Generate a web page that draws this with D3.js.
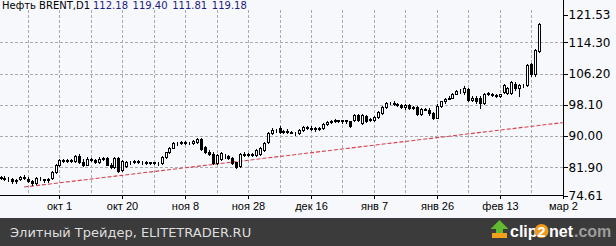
<!DOCTYPE html>
<html lang="ru">
<meta charset="utf-8">
<head>
<title>Нефть BRENT, D1</title>
<script src="https://d3js.org/d3.v7.min.js"></script>
<style>
  body { margin: 0; background: #fff; }
  svg { display: block; }
  .grid line { stroke: #a9abb0; stroke-dasharray: 3,2; shape-rendering: crispEdges; }
  .axis text { font-family: "DejaVu Sans", sans-serif; fill: #000; }
  .axis line { stroke: #000; shape-rendering: crispEdges; }
  .xaxis text { font-family: "Liberation Sans", sans-serif; font-size: 11px; }
  .yaxis text { font-size: 12px; }
</style>
</head>
<body>
<div id="chart"></div>
<script>
// daily bars, Brent, mid Sep .. Feb 23
var opens = [
  79.3, 79.2, 79.0, 78.9, 78.3, 78.8, 79.5, 79.0, 78.4, 77.9,
  79.0, 78.8, 78.6, 79.2, 80.8, 82.5, 83.8, 83.6, 83.7, 83.6,
  84.9, 83.3, 82.6, 84.2, 83.8, 83.3, 84.2, 84.3, 82.6, 82.0,
  84.3, 81.1, 82.3, 83.3, 83.4, 83.5, 83.2, 83.4, 83.1, 83.2,
  83.0, 83.1, 84.6, 85.8, 87.0, 88.2, 88.1, 88.5, 88.3, 88.2,
  88.4, 89.2, 87.2, 85.8, 85.4, 83.0, 84.0, 84.8, 84.8, 84.3,
  83.2, 82.3, 85.4, 85.2, 85.3, 85.2, 85.4, 86.3, 88.4, 90.8,
  91.6, 92.2, 91.1, 91.3, 91.2, 90.9, 90.9, 91.5, 92.3, 92.2,
  91.9, 92.0, 92.1, 93.2, 93.6, 94.0, 94.1, 93.9, 94.1, 93.9,
  94.2, 95.5, 93.3, 95.2, 94.2, 94.3, 95.0, 96.0, 97.6, 98.5,
  98.6, 98.4, 98.1, 97.6, 98.0, 97.3, 97.6, 95.8, 97.1, 96.9,
  96.0, 94.8, 97.9, 99.0, 99.7, 100.0, 101.0, 101.6, 101.5, 102.2,
  99.4, 100.0, 100.0, 98.6, 101.0, 101.0, 100.7, 100.4, 101.4, 101.3,
  101.2, 103.6, 102.4, 103.2, 103.3, 108.6, 106.0, 112.18
];
var highs = [
  79.7, 79.6, 79.4, 79.2, 78.9, 79.7, 79.8, 79.3, 78.6, 79.4,
  79.3, 79.0, 79.2, 81.0, 82.7, 84.0, 84.1, 84.0, 84.1, 85.0,
  85.4, 84.0, 84.5, 84.4, 84.0, 84.5, 84.6, 84.5, 83.0, 84.5,
  84.6, 83.9, 83.5, 83.6, 83.8, 83.7, 83.6, 83.6, 83.3, 83.4,
  83.3, 84.8, 86.0, 87.3, 88.4, 88.5, 88.7, 88.8, 88.6, 89.0,
  89.4, 89.4, 87.5, 86.4, 85.8, 85.3, 85.9, 85.3, 85.0, 84.5,
  83.4, 85.6, 85.8, 85.6, 85.6, 86.6, 87.2, 88.5, 91.1, 92.0,
  91.9, 92.5, 91.6, 91.8, 91.4, 91.2, 91.8, 92.6, 92.7, 92.6,
  92.3, 92.3, 93.3, 93.8, 94.3, 94.4, 94.3, 94.3, 94.3, 94.0,
  95.8, 95.8, 95.8, 95.4, 94.8, 95.3, 96.5, 97.8, 98.8, 98.9,
  99.0, 98.7, 98.4, 98.4, 98.3, 97.8, 97.9, 97.3, 97.4, 97.2,
  96.2, 98.2, 99.2, 99.9, 100.3, 101.3, 101.9, 102.2, 102.9, 102.4,
  100.3, 100.3, 100.3, 101.2, 101.4, 101.2, 100.9, 101.0, 103.4, 102.8,
  104.3, 104.0, 103.6, 103.6, 108.7, 109.0, 112.5, 119.40
];
var lows = [
  78.9, 78.7, 78.3, 77.9, 77.9, 78.6, 78.8, 78.0, 77.3, 77.7,
  78.5, 78.0, 78.2, 78.8, 80.5, 82.3, 83.3, 83.2, 83.3, 83.4,
  83.0, 82.2, 82.4, 83.5, 83.0, 83.1, 83.9, 82.4, 81.8, 81.7,
  80.8, 80.9, 82.0, 82.9, 83.0, 83.0, 82.9, 82.7, 82.9, 82.8,
  82.6, 82.9, 84.4, 85.6, 86.8, 87.8, 87.9, 88.0, 87.9, 88.0,
  88.2, 86.3, 85.6, 85.2, 82.8, 82.7, 83.8, 84.4, 84.1, 82.8,
  81.8, 82.0, 84.9, 84.8, 84.9, 84.8, 85.1, 86.1, 88.2, 90.5,
  91.2, 90.9, 90.8, 90.9, 90.7, 90.4, 90.6, 91.3, 91.9, 91.6,
  91.4, 91.5, 91.9, 92.9, 93.4, 93.6, 93.6, 93.5, 93.4, 92.3,
  94.0, 94.0, 93.2, 93.6, 94.0, 94.0, 94.8, 95.8, 97.4, 98.2,
  98.1, 97.8, 97.3, 97.0, 97.0, 97.0, 95.4, 95.6, 96.7, 95.6,
  94.5, 94.6, 97.6, 98.6, 99.5, 99.8, 100.8, 101.2, 101.0, 99.0,
  99.2, 98.7, 97.3, 98.4, 100.6, 100.4, 100.2, 100.2, 101.2, 101.0,
  101.0, 102.0, 100.3, 102.8, 103.0, 105.6, 105.6, 111.81
];
var closes = [
  79.2, 79.0, 78.9, 78.3, 78.6, 79.5, 79.1, 78.4, 77.8, 79.1,
  78.8, 78.6, 79.0, 80.8, 82.5, 83.8, 83.6, 83.7, 83.5, 84.8,
  83.2, 82.5, 84.2, 83.8, 83.3, 84.2, 84.3, 82.6, 82.0, 84.3,
  81.0, 83.6, 83.3, 83.3, 83.5, 83.2, 83.4, 83.1, 83.2, 83.0,
  83.1, 84.6, 85.8, 87.0, 88.2, 88.1, 88.5, 88.3, 88.2, 88.8,
  89.2, 86.6, 85.8, 85.4, 83.0, 85.0, 85.6, 84.8, 84.3, 83.0,
  82.1, 85.4, 85.2, 85.4, 85.2, 86.4, 86.9, 88.2, 90.8, 91.7,
  91.5, 91.1, 91.3, 91.2, 90.9, 90.8, 91.5, 92.3, 92.2, 91.9,
  92.0, 91.9, 93.1, 93.6, 94.0, 94.1, 93.9, 94.1, 93.8, 92.6,
  95.5, 94.3, 95.4, 94.0, 94.5, 95.0, 96.3, 97.6, 98.5, 98.6,
  98.4, 98.1, 97.6, 98.0, 97.2, 97.5, 95.7, 97.1, 96.9, 95.9,
  94.8, 97.9, 99.0, 99.7, 100.0, 101.0, 101.6, 101.8, 102.6, 99.3,
  99.9, 99.0, 98.5, 101.0, 101.1, 100.7, 100.5, 100.8, 103.2, 102.5,
  104.0, 102.4, 103.3, 103.3, 108.4, 106.2, 112.3, 119.18
];

// bar index of each date label (every 16 bars)
var xTickBars = [15, 31, 47, 63, 79, 95, 111, 127, 143];
var xTickLabels = ["окт 1", "окт 20", "ноя 8", "ноя 28", "дек 16", "янв 7", "янв 26", "фев 13", "мар 2"];
var xGridBars = [7, 15, 23, 31, 39, 47, 55, 63, 71, 79, 87, 95, 103, 111, 119, 127, 135];

var yTicks = [74.61, 81.90, 90.00, 98.10, 106.20, 114.30, 121.53];
var yGrid = [81.90, 90.00, 98.10, 106.20, 114.30];

// trend line: two anchor points (bar index, price)
var trendBars = [6, 143];
var trendPrices = [76.8, 93.5];

var symbolName = "Нефть BRENT,D1";
var footerText = "Элитный Трейдер, ELITETRADER.RU";

var w = 616, h = 246;
var plotRight = 563.5, plotBottom = 195.5;

var svg = d3.select("#chart").append("svg")
    .attr("width", w)
    .attr("height", h);

svg.append("rect")
    .attr("width", w).attr("height", 218)
    .attr("fill", "#f7f8fb");

var xScale = d3.scaleLinear().domain([0, 143]).range([0.5, 562.5]);
var yScale = d3.scaleLinear().domain([74.61, 121.53]).range([plotBottom, 14.5]);

// grid
var grid = svg.append("g").attr("class", "grid");
grid.selectAll(".gx")
    .data(xGridBars)
    .enter()
    .append("line")
    .attr("x1", function(d) { return Math.round(xScale(d)) + 0.5; })
    .attr("x2", function(d) { return Math.round(xScale(d)) + 0.5; })
    .attr("y1", 10)
    .attr("y2", plotBottom);
grid.selectAll(".gy")
    .data(yGrid)
    .enter()
    .append("line")
    .attr("x1", 0)
    .attr("x2", plotRight)
    .attr("y1", function(d) { return Math.round(yScale(d)) + 0.5; })
    .attr("y2", function(d) { return Math.round(yScale(d)) + 0.5; });

// trend line
svg.append("clipPath").attr("id", "plotclip")
    .append("rect").attr("x", 0).attr("y", 0).attr("width", plotRight).attr("height", plotBottom);

svg.append("line")
    .attr("clip-path", "url(#plotclip)")
    .attr("x1", xScale(trendBars[0]))
    .attr("y1", yScale(trendPrices[0]))
    .attr("x2", xScale(trendBars[1]))
    .attr("y2", yScale(trendPrices[1]))
    .attr("stroke", "#d9404c")
    .attr("stroke-width", 1.1)
    .attr("stroke-dasharray", "4,2");

// candles
var bars = d3.range(closes.length);
var candles = svg.append("g").attr("clip-path", "url(#plotclip)");

candles.selectAll(".wick")
    .data(bars)
    .enter()
    .append("line")
    .attr("x1", function(i) { return Math.round(xScale(i)) + 0.5; })
    .attr("x2", function(i) { return Math.round(xScale(i)) + 0.5; })
    .attr("y1", function(i) { return Math.round(yScale(highs[i])); })
    .attr("y2", function(i) { return Math.round(yScale(lows[i])) + 1; })
    .attr("stroke", "#000")
    .attr("shape-rendering", "crispEdges");

candles.selectAll(".body")
    .data(bars)
    .enter()
    .append("rect")
    .attr("x", function(i) { return Math.round(xScale(i)) - 0.5; })
    .attr("y", function(i) { return Math.round(yScale(Math.max(opens[i], closes[i]))) + 0.5; })
    .attr("width", 2)
    .attr("height", function(i) {
        return Math.max(0, Math.round(yScale(Math.min(opens[i], closes[i]))) - Math.round(yScale(Math.max(opens[i], closes[i]))));
    })
    .attr("fill", function(i) { return closes[i] >= opens[i] ? "#fff" : "#000"; })
    .attr("stroke", "#000")
    .attr("shape-rendering", "crispEdges");

// axes
var yAxis = d3.axisRight(yScale)
    .tickValues(yTicks)
    .tickSize(4)
    .tickSizeOuter(0)
    .tickPadding(1)
    .tickFormat(d3.format(".2f"));
var gy = svg.append("g")
    .attr("class", "axis yaxis")
    .attr("transform", "translate(" + plotRight + ",0)")
    .call(yAxis);
gy.select(".domain").remove();

var xAxis = d3.axisBottom(xScale)
    .tickValues(xTickBars)
    .tickSize(3)
    .tickSizeOuter(0)
    .tickPadding(4)
    .tickFormat(function(d, k) { return xTickLabels[k]; });
var gx = svg.append("g")
    .attr("class", "axis xaxis")
    .attr("transform", "translate(0," + plotBottom + ")")
    .call(xAxis);
gx.select(".domain").remove();
gx.selectAll(".tick").attr("transform", function(d) { return "translate(" + (Math.round(xScale(d)) + 0.5) + ",0)"; });

svg.append("line")
    .attr("x1", plotRight).attr("x2", plotRight)
    .attr("y1", 0).attr("y2", plotBottom)
    .attr("stroke", "#000").attr("shape-rendering", "crispEdges");
svg.append("line")
    .attr("x1", 0).attr("x2", plotRight)
    .attr("y1", plotBottom).attr("y2", plotBottom)
    .attr("stroke", "#000").attr("shape-rendering", "crispEdges");

// header: symbol and last bar OHLC
var last = closes.length - 1;
var ohlc = [opens[last], highs[last], lows[last], closes[last]];
svg.append("text")
    .attr("x", 2).attr("y", 9)
    .attr("font-family", "DejaVu Sans, sans-serif")
    .attr("font-size", 10)
    .attr("fill", "#000")
    .text(symbolName);
svg.selectAll(".ohlc")
    .data(ohlc)
    .enter()
    .append("text")
    .attr("x", function(d, k) { return 93 + k * 39.6; })
    .attr("y", 9)
    .attr("font-family", "DejaVu Sans, sans-serif")
    .attr("font-size", 10)
    .attr("fill", "#1b1b80")
    .text(function(d) { return d.toFixed(2); });

// footer
svg.append("rect")
    .attr("y", 218).attr("width", w).attr("height", 28)
    .attr("fill", "#3b3b3b");
svg.append("text")
    .attr("x", 10).attr("y", 237)
    .attr("font-family", "DejaVu Sans, sans-serif")
    .attr("font-size", 13)
    .attr("fill", "#dedede")
    .text(footerText);

// clip2net logo
var logo = svg.append("g");
logo.append("rect")
    .attr("x", 492).attr("y", 233).attr("width", 15).attr("height", 5)
    .attr("fill", "#f2a019");
logo.append("path")
    .attr("d", "M499.5,220 L508.5,229 L503,229 L503,233 L496,233 L496,229 L490.5,229 Z")
    .attr("fill", "#62b82f");
logo.append("text")
    .attr("x", 510).attr("y", 237)
    .attr("font-family", "Liberation Sans, sans-serif")
    .attr("font-weight", "bold")
    .attr("font-size", 16)
    .attr("fill", "#fff")
    .text("clip");
logo.append("circle")
    .attr("cx", 541.5).attr("cy", 231).attr("r", 7)
    .attr("fill", "#f29a1a");
logo.append("text")
    .attr("x", 541.5).attr("y", 236.5)
    .attr("text-anchor", "middle")
    .attr("font-family", "Liberation Sans, sans-serif")
    .attr("font-weight", "bold")
    .attr("font-size", 15)
    .attr("fill", "#fff")
    .text("2");
logo.append("text")
    .attr("x", 549).attr("y", 237)
    .attr("font-family", "Liberation Sans, sans-serif")
    .attr("font-weight", "bold")
    .attr("font-size", 16)
    .attr("fill", "#fff")
    .text("net");
logo.append("text")
    .attr("x", 574).attr("y", 237)
    .attr("font-family", "Liberation Sans, sans-serif")
    .attr("font-weight", "bold")
    .attr("font-size", 16)
    .attr("fill", "#9c9c9c")
    .text(".com");
</script>
</body>
</html>
